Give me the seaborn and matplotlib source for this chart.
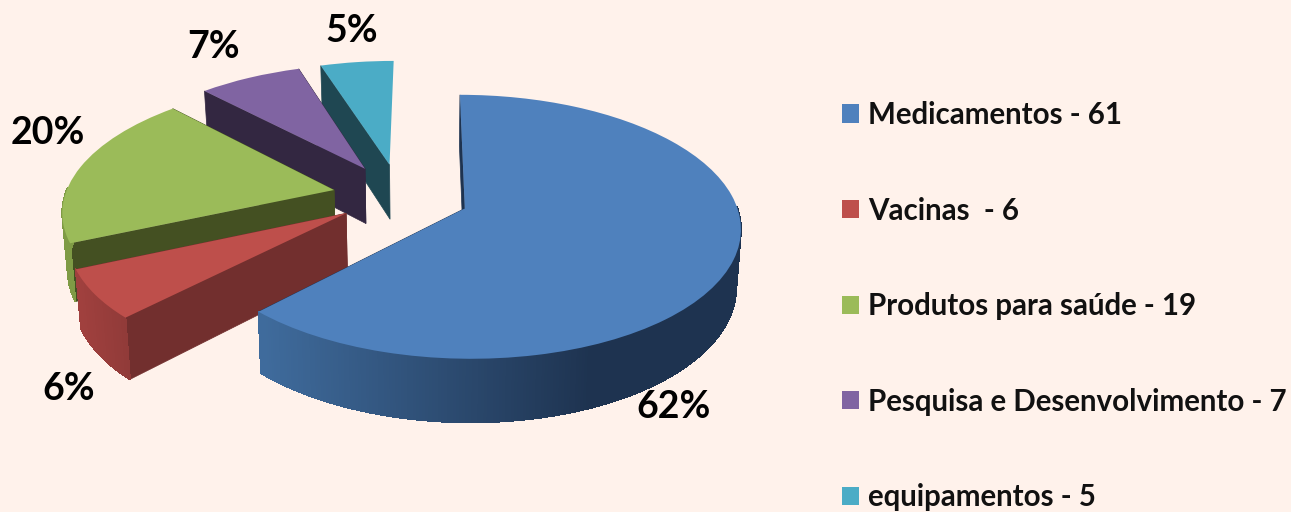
import numpy as np
import matplotlib
matplotlib.use("Agg")
import matplotlib.pyplot as plt
import seaborn as sns
from matplotlib.collections import PolyCollection
from matplotlib.transforms import Transform
from matplotlib.colors import to_rgb

categories = ["Medicamentos - 61", "Vacinas  - 6", "Produtos para saúde - 19",
              "Pesquisa e Desenvolvimento - 7", "equipamentos - 5"]
values = [61, 6, 19, 7, 5]
pct_labels = ["62%", "6%", "20%", "7%", "5%"]
top_colors = ["#4F81BD", "#BE4F4B", "#9BBB59", "#8064A2", "#4BACC6"]
cut_colors = ["#1E3350", "#722F2E", "#445022", "#332741", "#1F4752"]
arc_left = ["#3F6B9C", "#A0403E", "#7F9B45", "#5A4675", "#2F7488"]
arc_right = ["#1E3350", "#8E3A38", "#7F9B45", "#5A4675", "#2F7488"]
explode = [0.26, 0.235, 0.25, 0.26, 0.26]
label_xy = [(674, 407.5), (69, 388.5), (48, 133.5), (214, 46.5), (352, 31.5)]
BG = "#FFF2EB"

# projection of the pie plane to picture pixels
VX, VY, U0, BX, AY, P = 425.0, 196.0, -0.095, 269.0, 126.0, 0.137
DEPTH, DEPTH_POW, SHRINK = 56.0, 0.78, 0.985


class Persp(Transform):
    input_dims = output_dims = 2
    is_separable = False
    has_inverse = False

    def transform_non_affine(self, xy):
        xy = np.asarray(xy, float)
        u, v = xy[:, 0] + U0, xy[:, 1]
        s = 1.0 / (1.0 + P * v)
        return np.column_stack([VX + BX * u * s, VY - AY * v * s])


persp = Persp()


def project(u, v, bottom=False):
    p = persp.transform_non_affine(np.column_stack([u, v]))
    if bottom:
        s = 1.0 / (1.0 + P * np.asarray(v))
        p = np.column_stack([VX + (p[:, 0] - VX) * SHRINK,
                             p[:, 1] + DEPTH * s ** DEPTH_POW])
    return p


sns.set_theme(style="white")
plt.rcParams["font.family"] = ["Lato", "DejaVu Sans"]
plt.rcParams["font.weight"] = "bold"

fig = plt.figure(figsize=(12.91, 5.12), dpi=100, facecolor=BG)
ax = fig.add_axes([0, 0, 1, 1], facecolor=BG)
wedges, _ = ax.pie(values, colors=top_colors, explode=explode, startangle=90,
                   counterclock=False, radius=1,
                   wedgeprops=dict(linewidth=0))
ax.set_aspect("auto")
ax.set_xlim(0, 1291)
ax.set_ylim(512, 0)
ax.set_frame_on(False)

draw_order = [4, 3, 2, 1, 0]
for rank, i in enumerate(draw_order):
    w = wedges[i]
    z = 2 + rank * 3
    cx, cy = w.center
    # the last slice's edge at 12 o'clock is seen exactly edge-on
    cuts = (w.theta2,) if i == 4 else (w.theta1, w.theta2)
    for th in cuts:
        t = np.deg2rad(th)
        u = np.array([cx, cx + np.cos(t)])
        v = np.array([cy, cy + np.sin(t)])
        top, bot = project(u, v), project(u, v, True)
        ax.fill(np.r_[top[:, 0], bot[::-1, 0]], np.r_[top[:, 1], bot[::-1, 1]],
                color=cut_colors[i], lw=0.5, zorder=z)
    ts = np.deg2rad(np.linspace(w.theta1, w.theta2, 400))
    ts = ts[np.sin(ts) < 0.02]          # only the side of the rim facing the viewer
    if len(ts) > 1:
        u, v = cx + np.cos(ts), cy + np.sin(ts)
        top, bot = project(u, v), project(u, v, True)
        # smooth silhouette underneath, then non-antialiased gradient strips
        outline = np.vstack([top, bot[::-1]])
        ax.fill(outline[:, 0], outline[:, 1], color=arc_right[i], lw=0.6, zorder=z + 1)
        polys, cols = [], []
        cl, cr = np.array(to_rgb(arc_left[i])), np.array(to_rgb(arc_right[i]))
        x_lo, x_hi = (264, 590) if i == 0 else (80, 135)
        for k in range(len(ts) - 1):
            polys.append([top[k], top[k + 1], bot[k + 1], bot[k]])
            f = np.clip((top[k, 0] - x_lo) / (x_hi - x_lo), 0, 1)
            cols.append(cl + (cr - cl) * f)
        ax.add_collection(PolyCollection(polys, facecolors=cols, edgecolors=cols,
                                         linewidths=0.6, antialiaseds=False,
                                         zorder=z + 1), autolim=False)
    w.set_transform(persp + ax.transData)
    w.set_zorder(z + 2)

for txt, (x, y) in zip(pct_labels, label_xy):
    ax.text(x, y, txt, ha="center", va="center", fontsize=27, color="black",
            fontweight="bold", zorder=30)

leg = ax.legend(wedges, categories, loc="upper left",
                bbox_to_anchor=(842 / 1291, 1 - 101 / 512),
                frameon=False, fontsize=21.25, handlelength=0.576, handleheight=0.576,
                handletextpad=0.3, labelspacing=2.29, borderpad=0, borderaxespad=0,
                labelcolor="#111111")
leg.set_zorder(40)

fig.savefig("out.png", dpi=100, facecolor=BG)
